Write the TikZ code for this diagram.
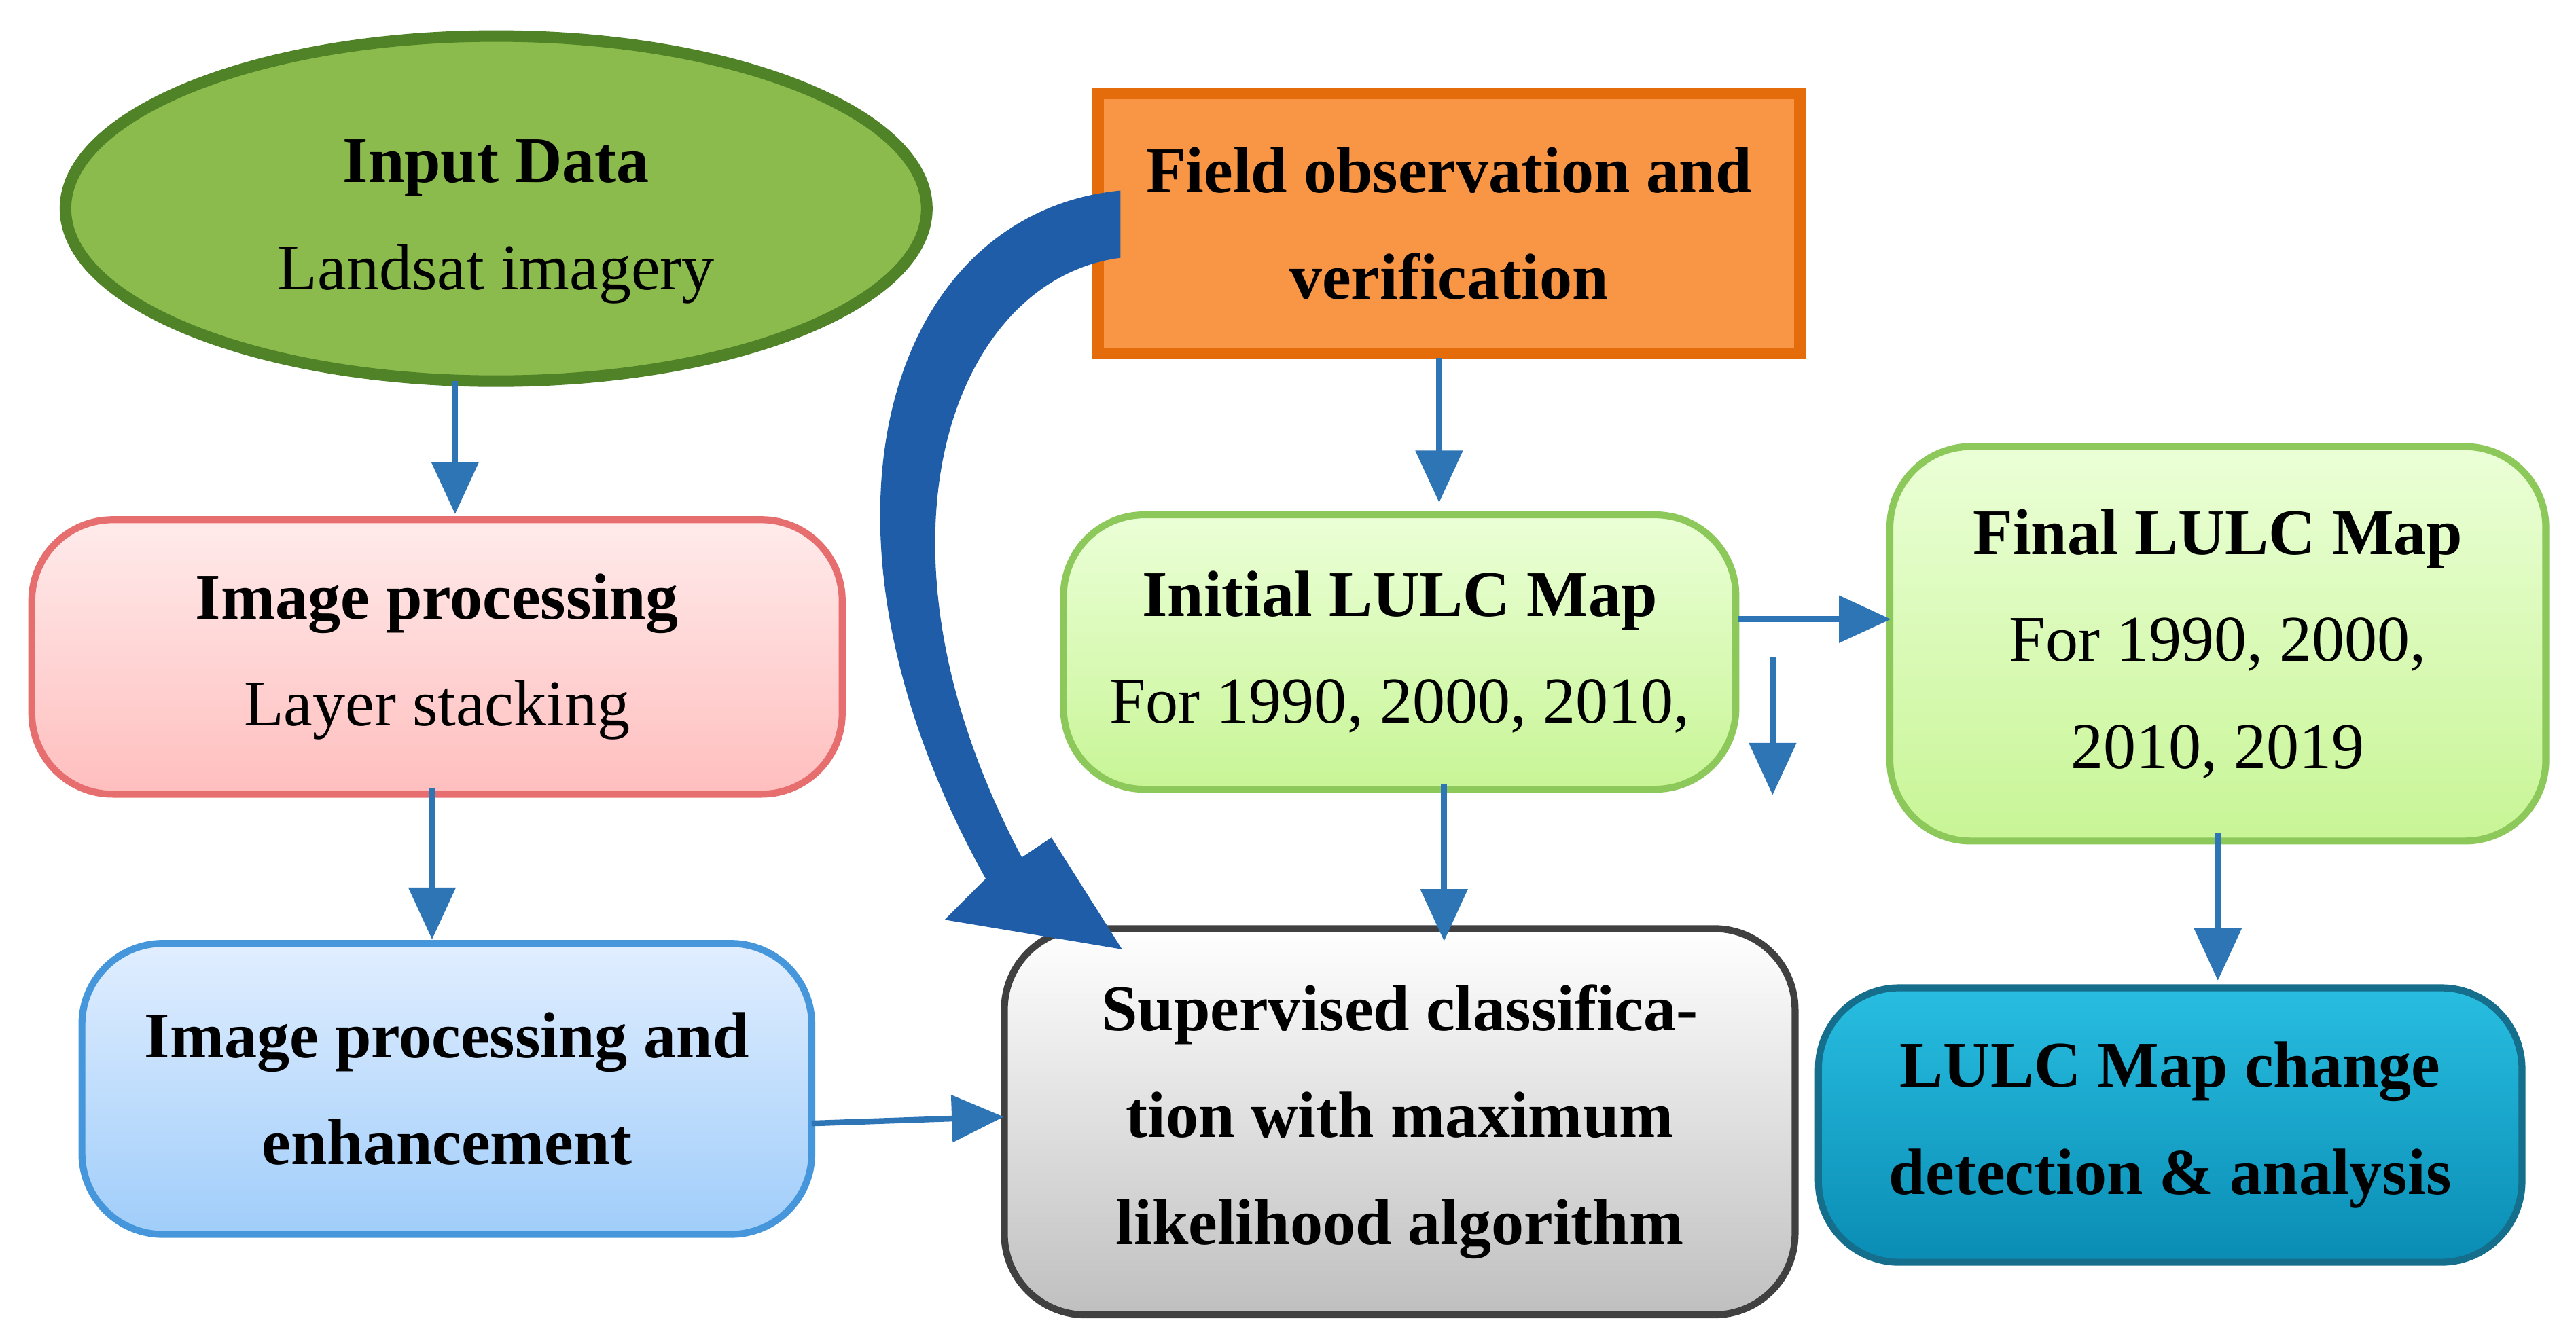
\documentclass[tikz,border=0pt]{standalone}
\usepackage{fontspec}
\setmainfont{Liberation Serif}
\usetikzlibrary{shapes.geometric,arrows.meta}
\begin{document}
\begin{tikzpicture}[x=0.01cm,y=-0.01cm,
  txt/.style={font=\fontsize{11.3}{18.5}\selectfont, align=center, inner sep=1pt},
  box/.style={draw, line width=1.2pt, rounded corners=14pt},
  ar/.style={draw=arrowc, line width=1pt, -{Triangle[length=9pt,width=8pt]}}]
\definecolor{arrowc}{HTML}{2E75B6}
\definecolor{bigarr}{HTML}{1F5DA8}
\useasboundingbox (0,0) rectangle (1568,818);
% ellipse
\node[ellipse, draw={rgb,255:red,80;green,130;blue,40}, fill={rgb,255:red,139;green,187;blue,76}, line width=2pt, minimum width=5.24cm, minimum height=2.1cm] (in) at (302,127) {};
\node[txt] at (302,135) {\textbf{Input Data}\\Landsat imagery};
% orange
\node[draw={rgb,255:red,228;green,108;blue,10}, fill={rgb,255:red,248;green,150;blue,70}, line width=2pt, minimum width=4.27cm, minimum height=1.58cm, txt] (fo) at (882,136) {\textbf{Field observation and}\\\textbf{verification}};
% red
\node[box, draw={rgb,255:red,230;green,110;blue,110}, top color={rgb,255:red,255;green,235;blue,235}, bottom color={rgb,255:red,255;green,190;blue,190}, minimum width=4.93cm, minimum height=1.67cm, txt] (ip) at (266,400) {\textbf{Image processing}\\Layer stacking};
% blue left
\node[box, draw={rgb,255:red,70;green,150;blue,220}, top color={rgb,255:red,225;green,238;blue,255}, bottom color={rgb,255:red,160;green,205;blue,250}, minimum width=4.44cm, minimum height=1.77cm, txt] (ie) at (272,663) {\textbf{Image processing and}\\\textbf{enhancement}};
% initial
\node[box, draw={rgb,255:red,140;green,200;blue,90}, top color={rgb,255:red,235;green,255;blue,215}, bottom color={rgb,255:red,200;green,245;blue,150}, minimum width=4.09cm, minimum height=1.67cm, txt] (il) at (852,397) {\textbf{Initial LULC Map}\\For 1990, 2000, 2010,};
% final
\node[box, draw={rgb,255:red,140;green,200;blue,90}, top color={rgb,255:red,235;green,255;blue,215}, bottom color={rgb,255:red,200;green,245;blue,150}, minimum width=3.99cm, minimum height=2.4cm, txt] (fl) at (1350,392) {\textbf{Final LULC Map}\\For 1990, 2000,\\2010, 2019};
% gray
\node[box, draw=black!75, top color=white, bottom color=black!25, minimum width=4.81cm, minimum height=2.35cm, txt] (sc) at (852,683) {\textbf{Supervised classifica-}\\\textbf{tion with maximum}\\\textbf{likelihood algorithm}};
% teal
\node[box, draw={rgb,255:red,20;green,110;blue,140}, top color={rgb,255:red,40;green,190;blue,225}, bottom color={rgb,255:red,10;green,140;blue,180}, minimum width=4.28cm, minimum height=1.67cm, txt] (lc) at (1321,685) {\textbf{LULC Map change}\\\textbf{detection \& analysis}};
% thin arrows
\coordinate (a1) at (277,232); \coordinate (a2) at (277,313);
\draw[ar] (a1) -- (a2);
\coordinate (b1) at (263,480); \coordinate (b2) at (263,572);
\draw[ar] (b1) -- (b2);
\coordinate (c1) at (876,218); \coordinate (c2) at (876,306);
\draw[ar] (c1) -- (c2);
\coordinate (e1) at (1058,377); \coordinate (e2) at (1151,377);
\draw[ar] (e1) -- (e2);
\coordinate (d1) at (1079,400); \coordinate (d2) at (1079,484);
\draw[ar] (d1) -- (d2);
\coordinate (f1) at (879,477); \coordinate (f2) at (879,573);
\draw[ar] (f1) -- (f2);
\coordinate (g1) at (1350,507); \coordinate (g2) at (1350,597);
\draw[ar] (g1) -- (g2);
\coordinate (h1) at (494,684); \coordinate (h2) at (611,680);
\draw[ar] (h1) -- (h2);
% big curved arrow
\fill[bigarr] (682,116) .. controls (540,130) and (480,320) .. (600,535)
  -- (575,560) -- (683,578) -- (640,510) -- (622,522)
  .. controls (520,330) and (580,170) .. (682,157) -- cycle;
\end{tikzpicture}
\end{document}
